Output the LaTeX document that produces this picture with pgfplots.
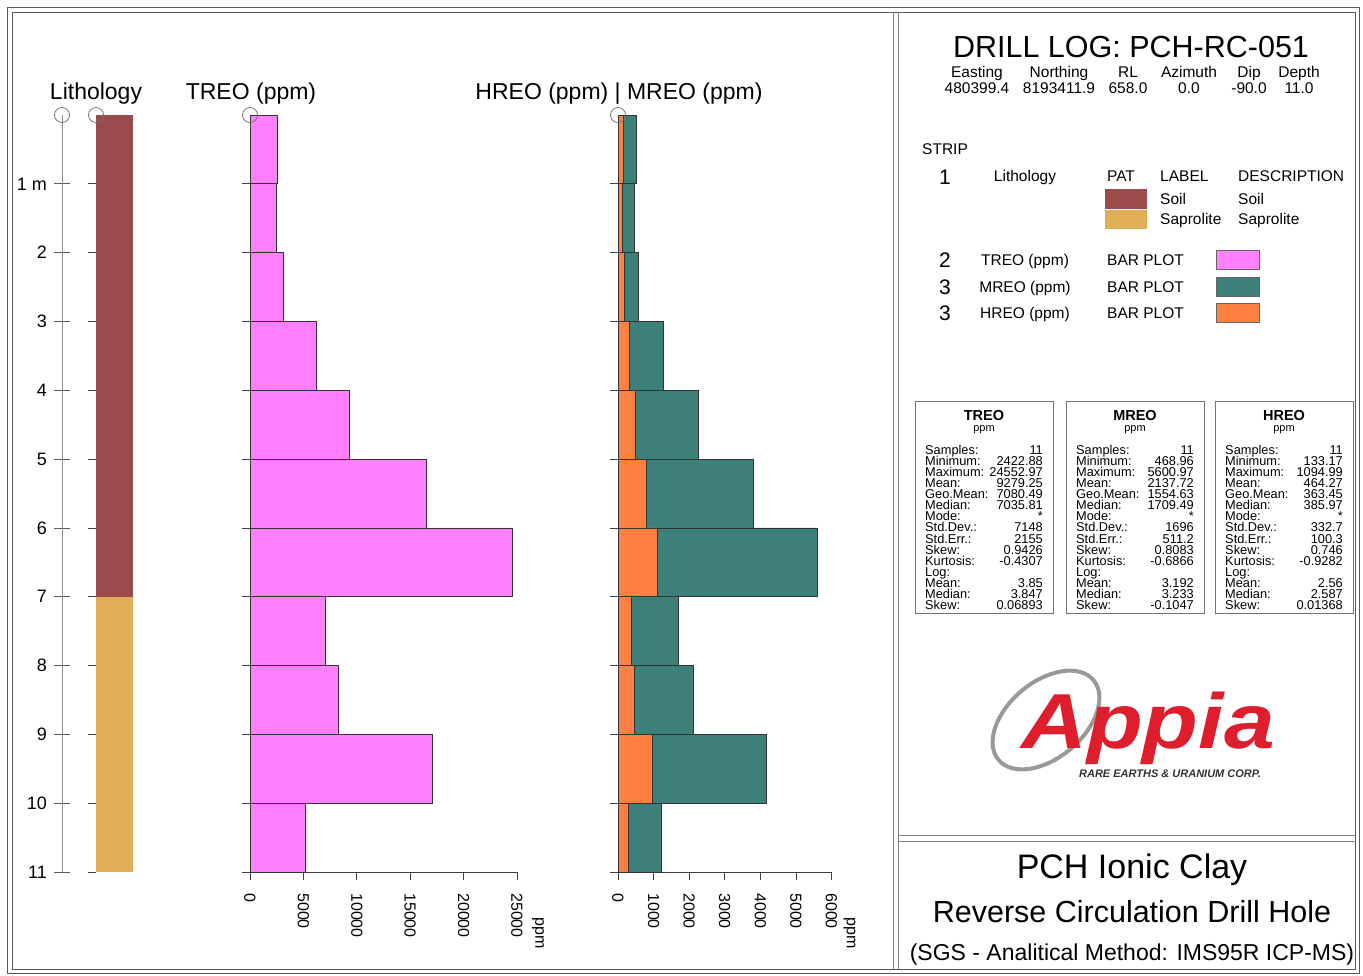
\documentclass[border=0pt]{standalone}
\usepackage{pgfplots}
\pgfplotsset{compat=1.18}
\usepackage{fontspec}
\setmainfont{Liberation Sans}
\definecolor{soil}{RGB}{155,75,75}
\definecolor{sapro}{RGB}{224,174,85}
\definecolor{treo}{RGB}{255,128,255}
\definecolor{mreo}{RGB}{61,128,122}
\definecolor{hreo}{RGB}{255,128,64}
\definecolor{appiared}{RGB}{222,30,45}
\newcommand{\fs}[1]{\fontsize{#1}{#1}\selectfont}

\pgfplotstableread{
depth treo
0 2530
1 2423
2 3090
3 6190
4 9280
5 16500
6 24553
7 7036
8 8250
9 17060
10 5150
11 5150
}\treodata
\pgfplotstableread{
depth mreo hreo
0 505 140
1 469 133
2 560 168
3 1264 310
4 2247 478
5 3792 787
6 5601 1095
7 1709 386
8 2107 449
9 4157 955
10 1208 281
11 1208 281
}\mhdata

\pgfplotsset{
  track/.style={
    scale only axis, height=757pt,
    y dir=reverse, ymin=0, ymax=11,
    clip=false,
    axis x line*=bottom, axis y line*=left,
    x axis line style={-, draw=black!75, line width=0.7pt},
    y axis line style={-, draw=none},
    tick align=outside,
    major tick length=8pt,
    tick style={black!75, line width=0.7pt},
    ytick={1,2,...,11}, yticklabel={\vphantom{0}},
    /pgf/number format/assume math mode=true,
    /pgf/number format/1000 sep={},
    scaled x ticks=false,
    xticklabel style={yshift=-13pt, rotate=-90, anchor=west, inner sep=0pt, font=\fs{16}},
  },
  circ/.style={only marks, mark=o, mark size=7.5pt, black!55, mark options={line width=0.8pt}},
}

\newcommand{\statbox}[3]{%
  \draw[black!55, line width=0.8pt] (#1,-401) rectangle ({#1+138},-613);
  \node[anchor=base, inner sep=0pt, font=\fs{14.5}\bfseries] at ({#1+69},-420) {#2};
  \node[anchor=base, inner sep=0pt, font=\fs{11}] at ({#1+69},-431) {ppm};
  \foreach \l [count=\i] in {Samples:,Minimum:,Maximum:,Mean:,Geo.Mean:,Median:,Mode:,Std.Dev.:,Std.Err.:,Skew:,Kurtosis:,Log:,Mean:,Median:,Skew:}{
    \node[anchor=base west, inner sep=0pt, font=\fs{12.8}] at ({#1+10},{-454.5-11.07*(\i-1)}) {\l};
  }
  \foreach \v [count=\i] in {#3}{
    \node[anchor=base east, inner sep=0pt, font=\fs{12.8}] at ({#1+128},{-454.5-11.07*(\i-1)}) {\v};
  }
}

\begin{document}
\begin{tikzpicture}[x=1pt,y=1pt, t/.style={inner sep=0pt, anchor=base}]
\useasboundingbox (0,0) rectangle (1363,-975);
\fill[white] (0,0) rectangle (1363,-975);

% frame
\draw[black!65, line width=1pt] (7.5,-7.5) rectangle (1359.5,-973);
\draw[black!65, line width=1pt] (12,-12) rectangle (1355.5,-969);
\draw[black!50, line width=1pt] (893,-12) -- (893,-969);
\draw[black!50, line width=1pt] (898,-12) -- (898,-969);
\draw[black!50, line width=1pt] (898,-835) -- (1355.5,-835);
\draw[black!50, line width=1pt] (898,-841) -- (1355.5,-841);

% track titles
\node[t, font=\fs{23}] at (96,-99) {Lithology};
\node[t, font=\fs{23}] at (251,-99) {TREO (ppm)};
\node[t, font=\fs{23}] at (619,-99) {HREO (ppm) | MREO (ppm)};

% depth axis
\begin{axis}[at={(62pt,-872pt)}, anchor=south west, scale only axis, width=1pt, height=757pt,
  y dir=reverse, ymin=0, ymax=11, xmin=0, xmax=1, clip=false,
  axis x line=none, axis y line=left,
  y axis line style={-, draw=black!45, line width=1pt},
  ytick={1,2,...,11}, yticklabels={1 m,2,3,4,5,6,7,8,9,10,11},
  tick align=center, major tick length=16pt, tick style={black!65, line width=0.7pt},
  yticklabel style={font=\fs{18}, inner sep=0pt, anchor=east, xshift=-7pt}]
\addplot[circ] coordinates {(0,0)};
\end{axis}

% lithology strip
\begin{axis}[track, at={(96pt,-872pt)}, anchor=south west, width=37pt, xmin=0, xmax=1,
  axis x line=none, xtick=\empty]
\addplot[xbar interval, fill=soil, draw=none] coordinates {(1,0) (1,7)};
\addplot[xbar interval, fill=sapro, draw=none] coordinates {(1,7) (1,11)};
\addplot[circ] coordinates {(0,0)};
\end{axis}

% TREO
\begin{axis}[track, at={(250pt,-872pt)}, anchor=south west, width=267pt, xmin=0, xmax=25000,
  xtick={0,5000,10000,15000,20000,25000}]
\addplot[xbar interval, fill=treo, draw=black!80, line width=0.7pt] table[x=treo, y=depth] {\treodata};
\addplot[circ] coordinates {(0,0)};
\node[rotate=-90, anchor=west, inner sep=0pt, font=\fs{16}] at ([xshift=21pt, yshift=-45pt]axis cs:25000,11) {ppm};
\end{axis}

% HREO | MREO
\begin{axis}[track, at={(618pt,-872pt)}, anchor=south west, width=213.5pt, xmin=0, xmax=6000,
  xtick={0,1000,...,6000}]
\addplot[xbar interval, fill=mreo, draw=black!80, line width=0.7pt] table[x=mreo, y=depth] {\mhdata};
\addplot[xbar interval, fill=hreo, draw=black!80, line width=0.7pt] table[x=hreo, y=depth] {\mhdata};
\addplot[circ] coordinates {(0,0)};
\node[rotate=-90, anchor=west, inner sep=0pt, font=\fs{16}] at ([xshift=18pt, yshift=-45pt]axis cs:6000,11) {ppm};
\end{axis}

% header
\node[t, font=\fs{30.5}] at (1131,-57) {DRILL LOG: PCH-RC-051};
\foreach \x/\h/\v in {977/Easting/480399.4, 1059/Northing/8193411.9, 1128/RL/658.0, 1189/Azimuth/0.0, 1249/Dip/-90.0, 1299/Depth/11.0}{
  \node[t, font=\fs{15.5}] at (\x,-77.5) {\h};
  \node[t, font=\fs{15.5}] at (\x,-93.5) {\v};
}

% strip legend
\node[t, anchor=base west, font=\fs{15.5}] at (922,-154.5) {STRIP};
\node[t, font=\fs{21}] at (945,-184.5) {1};
\node[t, font=\fs{15.5}] at (1025,-181.5) {Lithology};
\node[t, font=\fs{15.5}] at (1121,-181.5) {PAT};
\node[t, anchor=base west, font=\fs{15.5}] at (1160,-181.5) {LABEL};
\node[t, anchor=base west, font=\fs{15.5}] at (1238,-181.5) {DESCRIPTION};
\fill[soil] (1105,-189) rectangle (1147,-208.5);
\fill[sapro] (1105,-209.5) rectangle (1147,-228.5);
\node[t, anchor=base west, font=\fs{15.5}] at (1160,-204.5) {Soil};
\node[t, anchor=base west, font=\fs{15.5}] at (1238,-204.5) {Soil};
\node[t, anchor=base west, font=\fs{15.5}] at (1160,-224.5) {Saprolite};
\node[t, anchor=base west, font=\fs{15.5}] at (1238,-224.5) {Saprolite};

\foreach \n/\lab/\c/\y in {2/TREO (ppm)/treo/260, 3/MREO (ppm)/mreo/287, 3/HREO (ppm)/hreo/313}{
  \node[t, font=\fs{21}] at (945,{-\y-7.5}) {\n};
  \node[t, font=\fs{15.5}] at (1025,{-\y-5.5}) {\lab};
  \node[t, anchor=base west, font=\fs{15.5}] at (1107,{-\y-5.5}) {BAR PLOT};
  \filldraw[fill=\c, draw=black!60, line width=0.6pt] (1216,{-\y+9.5}) rectangle (1259,{-\y-9.5});
}

% statistics
\statbox{915}{TREO}{11,2422.88,24552.97,9279.25,7080.49,7035.81,*,7148,2155,0.9426,-0.4307,{},3.85,3.847,0.06893}
\statbox{1066}{MREO}{11,468.96,5600.97,2137.72,1554.63,1709.49,*,1696,511.2,0.8083,-0.6866,{},3.192,3.233,-0.1047}
\statbox{1215}{HREO}{11,133.17,1094.99,464.27,363.45,385.97,*,332.7,100.3,0.746,-0.9282,{},2.56,2.587,0.01368}

% logo
\draw[black!40, line width=4pt, rotate around={40:(1046,-720)}] (1046,-720) ellipse (62pt and 38pt);
\node[t, font=\fs{78}\bfseries\itshape, text=appiared] at (1148,-748) {\scalebox{1.17}[1]{Appia}};
\node[t, font=\fs{11}\bfseries\itshape, text=black!80] at (1170,-777) {RARE EARTHS \& URANIUM CORP.};

% bottom right
\node[t, font=\fs{34}] at (1132,-878) {PCH Ionic Clay};
\node[t, font=\fs{30.5}] at (1132,-922) {Reverse Circulation Drill Hole};
\node[t, font=\fs{23}] at (1132,-960) {(SGS - Analitical Method: IMS95R ICP-MS)};
\end{tikzpicture}
\end{document}
